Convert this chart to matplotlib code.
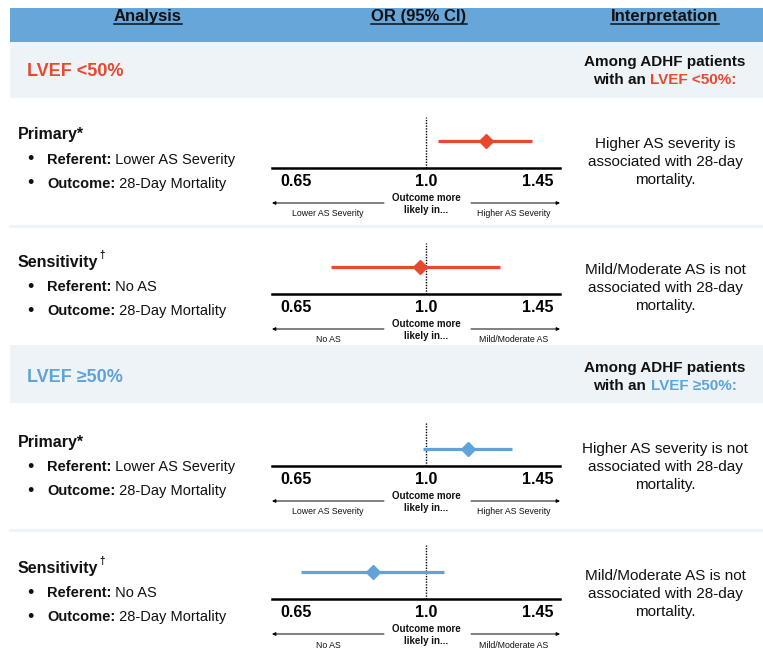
import matplotlib
matplotlib.use("Agg")
import matplotlib.pyplot as plt
from matplotlib.patches import Rectangle
from matplotlib.ticker import FixedLocator, NullLocator, FixedFormatter

plt.rcParams['font.family'] = ['Liberation Sans', 'DejaVu Sans']

# ---------------- data ----------------
headers = ["Analysis", "OR (95% CI)", "Interpretation"]
groups = ["LVEF <50%", "LVEF \u226550%"]
analyses = ["Primary*", "Sensitivity", "Primary*", "Sensitivity"]
referents = ["Lower AS Severity", "No AS", "Lower AS Severity", "No AS"]
outcomes = ["28-Day Mortality"] * 4
or_est = [1.22, 0.98, 1.15, 0.84]
ci_low = [1.04, 0.73, 0.99, 0.66]
ci_high = [1.42, 1.28, 1.33, 1.06]
tick_values = [0.65, 1.0, 1.45]
tick_labels = ["0.65", "1.0", "1.45"]
left_labels = ["Lower AS Severity", "No AS", "Lower AS Severity", "No AS"]
right_labels = ["Higher AS Severity", "Mild/Moderate AS", "Higher AS Severity", "Mild/Moderate AS"]
interpretations = [
    "Higher AS severity is\nassociated with 28-day\nmortality.",
    "Mild/Moderate AS is not\nassociated with 28-day\nmortality.",
    "Higher AS severity is not\nassociated with 28-day\nmortality.",
    "Mild/Moderate AS is not\nassociated with 28-day\nmortality.",
]

# ---------------- style / layout ----------------
W, H = 763, 652
RED = "#e9482f"
BLUE = "#5ea3da"
HEADER = "#66a6d9"
BAND = "#eef3f8"
TXT = "#111111"
group_colors = [RED, BLUE]
panel_colors = [RED, RED, BLUE, BLUE]

fig = plt.figure(figsize=(W / 100, H / 100), dpi=100)
fig.patch.set_facecolor("white")
bg = fig.add_axes([0, 0, 1, 1])
bg.set_xlim(0, W)
bg.set_ylim(H, 0)
bg.axis("off")
renderer = fig.canvas.get_renderer()


def width_of(t):
    return t.get_window_extent(renderer).width


# bands
bg.add_patch(Rectangle((10, 8), W - 10, 34, color=HEADER, lw=0))
bg.add_patch(Rectangle((10, 42), W - 10, 56, color=BAND, lw=0))
bg.add_patch(Rectangle((10, 345), W - 10, 58, color=BAND, lw=0))
bg.plot([10, W], [226, 226], color=BAND, lw=2)
bg.plot([10, W], [530, 530], color=BAND, lw=2)

# headers (underlined)
for label, x in zip(headers, [148, 419, 665]):
    t = bg.text(x, 16, label, ha="center", va="center", fontsize=12,
                fontweight="bold", color=TXT)
    w = width_of(t)
    bg.plot([x - w / 2, x + w / 2], [24, 24], color=TXT, lw=1.1)

# group band texts
for g, col, yc in zip(groups, group_colors, [72, 378]):
    bg.text(27, yc, g, ha="left", va="center", fontsize=13, fontweight="bold", color=col)
    bg.text(665, yc - 10, "Among ADHF patients", ha="center", va="center",
            fontsize=11, fontweight="bold", color=TXT)
    t1 = bg.text(0, 0, "with an ", fontsize=11, fontweight="bold")
    t2 = bg.text(0, 0, g + ":", fontsize=11, fontweight="bold")
    w1, w2 = width_of(t1), width_of(t2)
    t1.remove(); t2.remove()
    x0 = 665 - (w1 + w2) / 2
    bg.text(x0, yc + 8, "with an ", ha="left", va="center", fontsize=11,
            fontweight="bold", color=TXT)
    bg.text(x0 + w1, yc + 8, g + ":", ha="left", va="center", fontsize=11,
            fontweight="bold", color=col)

# left analysis labels
title_y = [135, 262, 442, 568]
for i in range(4):
    ty = title_y[i]
    name = analyses[i]
    t = bg.text(18, ty, name, ha="left", va="center", fontsize=11.5,
                fontweight="bold", color=TXT)
    if name == "Sensitivity":
        bg.text(18 + width_of(t) + 1, ty - 7, "\u2020", ha="left", va="center",
                fontsize=7, fontweight="bold", color=TXT)
    for k, (bold, normal) in enumerate([("Referent:", referents[i]),
                                         ("Outcome:", outcomes[i])]):
        yy = ty + 25 + 24 * k
        bg.text(30, yy, "\u2022", ha="center", va="center", fontsize=13, color=TXT)
        tb = bg.text(47, yy, bold, ha="left", va="center", fontsize=10.5,
                     fontweight="bold", color=TXT)
        bg.text(47 + width_of(tb), yy, " " + normal, ha="left", va="center",
                fontsize=10.5, color=TXT)

# interpretations
interp_y = [162, 288, 467, 594]
for txt, yy in zip(interpretations, interp_y):
    bg.text(665, yy, txt, ha="center", va="center", fontsize=11, color=TXT,
            linespacing=1.4)

# forest panels
axis_y = [168, 294, 466, 599]
top_y = [117, 243, 423, 545]
ci_y = [141, 267, 449, 572]
X0, X1 = 272, 560
for i in range(4):
    hgt = axis_y[i] - top_y[i]
    ax = fig.add_axes([X0 / W, (H - axis_y[i]) / H, (X1 - X0) / W, hgt / H])
    ax.set_xscale("log")
    ax.set_xlim(0.6, 1.56)
    ax.set_ylim(0, 1)
    ax.patch.set_alpha(0)
    for s in ["top", "left", "right"]:
        ax.spines[s].set_visible(False)
    ax.spines["bottom"].set_linewidth(1.8)
    ax.spines["bottom"].set_color("black")
    ax.xaxis.set_major_locator(FixedLocator(tick_values))
    ax.xaxis.set_major_formatter(FixedFormatter(tick_labels))
    ax.xaxis.set_minor_locator(NullLocator())
    ax.tick_params(axis="x", length=0, pad=4, labelsize=11.5)
    for lab in ax.get_xticklabels():
        lab.set_fontweight("bold")
    ax.set_yticks([])
    ax.axvline(1.0, ls=(0, (1, 1)), color="black", lw=1.0)
    yf = (axis_y[i] - ci_y[i]) / hgt
    col = panel_colors[i]
    ax.plot([ci_low[i], ci_high[i]], [yf, yf], color=col, lw=2.3,
            solid_capstyle="butt")
    ax.plot([or_est[i]], [yf], marker="D", ms=7, color=col, mec=col)
    ax.annotate("Outcome more\nlikely in...", xy=(1.0, 0),
                xycoords=ax.get_xaxis_transform(), xytext=(0, -36),
                textcoords="offset pixels", ha="center", va="center",
                fontsize=7, fontweight="bold", color=TXT, linespacing=1.15)

    ay = axis_y[i] + 35
    bg.annotate("", xy=(X0, ay), xytext=(384, ay),
                arrowprops=dict(arrowstyle="-|>", lw=0.7, color="black",
                                mutation_scale=5, shrinkA=0, shrinkB=0))
    bg.annotate("", xy=(X1, ay), xytext=(471, ay),
                arrowprops=dict(arrowstyle="-|>", lw=0.7, color="black",
                                mutation_scale=5, shrinkA=0, shrinkB=0))
    bg.text(328, ay + 11, left_labels[i], ha="center", va="center",
            fontsize=6.3, color=TXT)
    bg.text(514, ay + 11, right_labels[i], ha="center", va="center",
            fontsize=6.3, color=TXT)

fig.savefig("out.png", dpi=100)
